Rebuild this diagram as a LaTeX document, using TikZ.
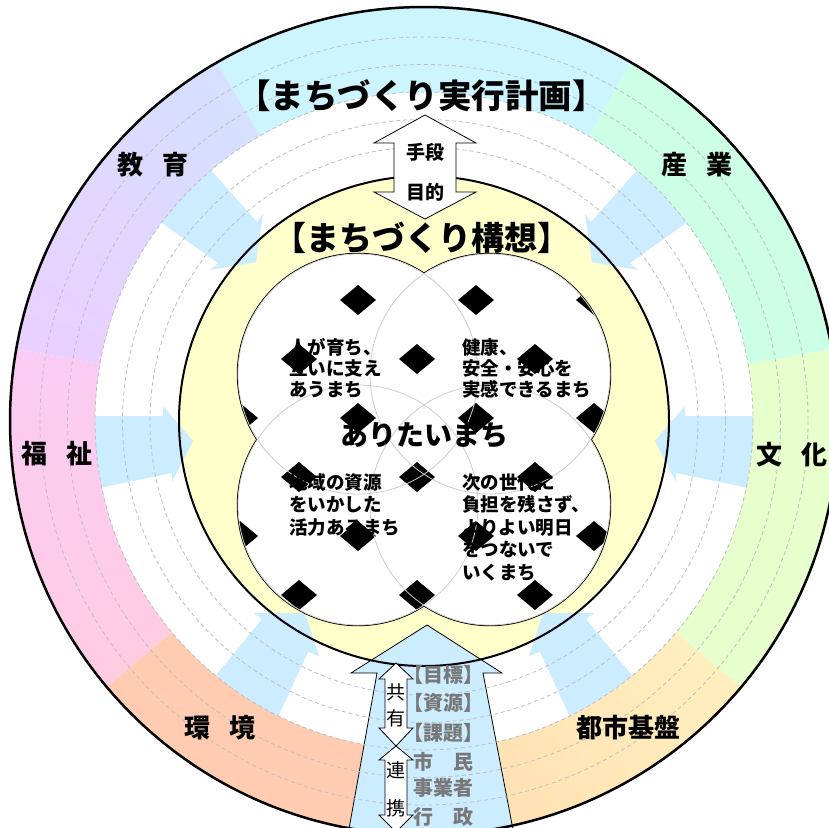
\documentclass[tikz,border=0pt]{standalone}
\usepackage{fontspec}
\setmainfont{Noto Sans CJK JP}
\usepackage{tikz}

\definecolor{ringtop}{RGB}{204,245,255}
\definecolor{ringedupink}{RGB}{234,208,255}
\definecolor{ringedublue}{RGB}{214,224,255}
\definecolor{ringwellow}{RGB}{255,204,226}
\definecolor{ringwelhigh}{RGB}{250,204,244}
\definecolor{ringenv}{RGB}{255,204,178}
\definecolor{ringurbgreen}{RGB}{255,238,190}
\definecolor{ringurbarrow}{RGB}{255,222,176}
\definecolor{ringcul}{RGB}{230,255,204}
\definecolor{ringind}{RGB}{204,255,230}
\definecolor{arrowblue}{RGB}{204,236,255}
\definecolor{visionyellow}{RGB}{255,255,204}
\definecolor{dashgrey}{RGB}{190,190,190}
\definecolor{venngrey}{RGB}{205,205,205}
\definecolor{labelgrey}{RGB}{120,120,120}

\tikzset{
  ringlabel/.style={font=\fontsize{26}{30}\selectfont\bfseries, inner sep=0pt},
  titlelabel/.style={font=\fontsize{33.5}{38}\selectfont\bfseries, inner sep=0pt},
  meanslabel/.style={font=\fontsize{19}{22}\selectfont\bfseries, inner sep=0pt},
  venntext/.style={font=\fontsize{18.5}{21}\selectfont\bfseries, align=left, inner sep=0pt, anchor=north west},
  vertlabel/.style={font=\fontsize{19}{22}\selectfont, inner sep=0pt},
  greytext/.style={font=\fontsize{20}{24}\selectfont\bfseries, text=labelgrey, inner sep=0pt, anchor=west},
  ringdash/.style={dashgrey, line width=0.8, dash pattern=on 4pt off 3pt},
  whitearrow/.style={fill=white, draw=black, line width=0.8, line join=miter},
}

\begin{document}
\begin{tikzpicture}[x=1pt,y=1pt,yscale=-1,xscale=1]
\useasboundingbox (0,0) rectangle (829,827);
\fill[white] (0,0) rectangle (829,827);
\coordinate (c) at (424,421);
\coordinate (ul) at (358,374);
\coordinate (ur) at (490,374);
\coordinate (ll) at (358,505);
\coordinate (lr) at (490,505);

%Shape: Circle [yellow disc]
\fill[visionyellow] (c) circle[radius=245];

%Shape: Polygon [side arrows]
\fill[arrowblue] (60,416) -- (163,416) -- (163,406) -- (193,441) -- (172,482) -- (172,473) -- (60,496) -- cycle;
\fill[arrowblue] (788,416) -- (685,416) -- (685,406) -- (655,441) -- (676,482) -- (676,473) -- (788,496) -- cycle;
\fill[arrowblue] (186,142) -- (257,222) -- (263,214) -- (256,262) -- (210,270) -- (218,263) -- (134,203) -- cycle;
\fill[arrowblue] (662,142) -- (591,222) -- (585,214) -- (592,262) -- (638,270) -- (630,263) -- (714,203) -- cycle;
\fill[arrowblue] (253,613) -- (305,613) -- (319,656) -- (308,652) -- (266,743) -- (196,700) -- (262,619) -- cycle;
\fill[arrowblue] (595,613) -- (543,613) -- (529,656) -- (540,652) -- (582,743) -- (652,700) -- (586,619) -- cycle;

%Shape: Ring sectors, each shaded in thin slices
\begin{scope}[shift={(c)}]
\foreach \ta/\tb/\ca/\cb in {-120/-60/ringtop/ringtop, -170/-120/ringedupink/ringedublue,
    -220/-170/ringwellow/ringwelhigh, -270/-220/ringenv/ringenv,
    -320/-270/ringurbgreen/ringurbarrow, -370/-320/ringcul/ringcul, -420/-370/ringind/ringind}
  \foreach \k in {0,...,19} {
    \pgfmathsetmacro\sa{\ta+(\tb-\ta)*\k/20}
    \pgfmathsetmacro\sb{\ta+(\tb-\ta)*(\k+1)/20+(\k<19)*0.4}
    \pgfmathtruncatemacro\p{\k*100/19}
    \fill[\cb!\p!\ca] (\sa:414) arc[start angle=\sa, end angle=\sb, radius=414] -- (\sb:329) arc[start angle=\sb, end angle=\sa, radius=329] -- cycle;
  }
\end{scope}

%Shape: Polygon [bottom arrow]
\draw[fill=arrowblue, line width=0.8, line join=miter] (427,625) -- (502,673) -- (483,673) -- (515,840) -- (347,840) -- (377,673) -- (351,673) -- cycle;

%Shape: Dashed circles
\foreach \r in {274,301.5,329,356.5,384}
  \draw[ringdash] (c) circle[radius=\r];

%Shape: Circle outlines
\draw[line width=2] (c) circle[radius=245];
\draw[line width=2.5] (c) circle[radius=414];

%Shape: Four circles
\foreach \v in {ul,ur,ll,lr}
  \draw[line width=2.4] (\v) circle[radius=120];
\foreach \v in {ul,ur,ll,lr}
  \fill[white] (\v) circle[radius=120];
\begin{scope}
\clip (ul) circle[radius=120] (ur) circle[radius=120] (ll) circle[radius=120] (lr) circle[radius=120];
\foreach \dy in {300,418,536}
  \foreach \dx in {240,358,476,594}
    \fill (\dx,\dy) +(-18,0) -- +(0,-15) -- +(18,0) -- +(0,15) -- cycle;
\foreach \dy in {359,477,595}
  \foreach \dx in {299,417,535}
    \fill (\dx,\dy) +(-18,0) -- +(0,-15) -- +(18,0) -- +(0,15) -- cycle;
\end{scope}
\foreach \v in {ul,ur,ll,lr}
  \draw[venngrey, line width=0.8] (\v) circle[radius=120];

%Shape: Double arrows
\draw[whitearrow] (425,115) -- (476,143) -- (456,143) -- (456,192) -- (476,192) -- (425,219) -- (374,192) -- (394,192) -- (394,143) -- (374,143) -- cycle;
\draw[whitearrow] (396,663) -- (413,679) -- (407,679) -- (407,728) -- (413,728) -- (396,746) -- (379,728) -- (385,728) -- (385,679) -- (379,679) -- cycle;
\draw[whitearrow] (396,746) -- (413,760) -- (407,760) -- (407,815) -- (413,815) -- (396,832) -- (379,815) -- (385,815) -- (385,760) -- (379,760) -- cycle;

% Text Node
\node[titlelabel] (plan) at (421.5,96) {【まちづくり実行計画】};
% Text Node
\node[titlelabel, font=\fontsize{33}{38}\selectfont\bfseries] (vision) at (422,238) {【まちづくり構想】};
% Text Node
\node[meanslabel] (means) at (425,152) {手段};
% Text Node
\node[meanslabel] (goal) at (425,192) {目的};
% Text Node
\node[ringlabel] (edu) at (153,165) {教\hspace{0.7em}育};
% Text Node
\node[ringlabel] (ind) at (697,165) {産\hspace{0.7em}業};
% Text Node
\node[ringlabel] (wel) at (57,454) {福\hspace{0.7em}祉};
% Text Node
\node[ringlabel] (cul) at (792,455) {文\hspace{0.7em}化};
% Text Node
\node[ringlabel] (env) at (220,728) {環\hspace{0.7em}境};
% Text Node
\node[ringlabel] (urb) at (628,728) {都市基盤};
% Text Node
\node[font=\fontsize{28}{32}\selectfont\bfseries, inner sep=0pt] (ideal) at (424,435) {ありたいまち};
% Text Node
\node[venntext] (grow) at (289,338) {人が育ち、\\互いに支え\\あうまち};
% Text Node
\node[venntext] (safe) at (462,338) {健康、\\安全・安心を\\実感できるまち};
% Text Node
\node[venntext, font=\fontsize{18.5}{22.5}\selectfont\bfseries] (local) at (289,473) {地域の資源\\をいかした\\活力あるまち};
% Text Node
\node[venntext, font=\fontsize{18.5}{22.5}\selectfont\bfseries] (future) at (462,473) {次の世代に\\負担を残さず、\\よりよい明日\\をつないで\\いくまち};
% Text Node
\node[vertlabel] (share1) at (396,692) {共};
\node[vertlabel] (share2) at (396,718) {有};
\node[vertlabel] (link1) at (396,770) {連};
\node[vertlabel] (link2) at (396,808) {携};
% Text Node
\node[greytext] (target) at (413,675) {\hspace{-0.5em}【目標】};
\node[greytext] (resource) at (413,703) {\hspace{-0.5em}【資源】};
\node[greytext] (issue) at (413,733) {\hspace{-0.5em}【課題】};
\node[greytext] (citizen) at (413,762) {市　民};
\node[greytext] (business) at (413,788) {事業者};
\node[greytext] (admin) at (413,817) {行　政};
\end{tikzpicture}
\end{document}
